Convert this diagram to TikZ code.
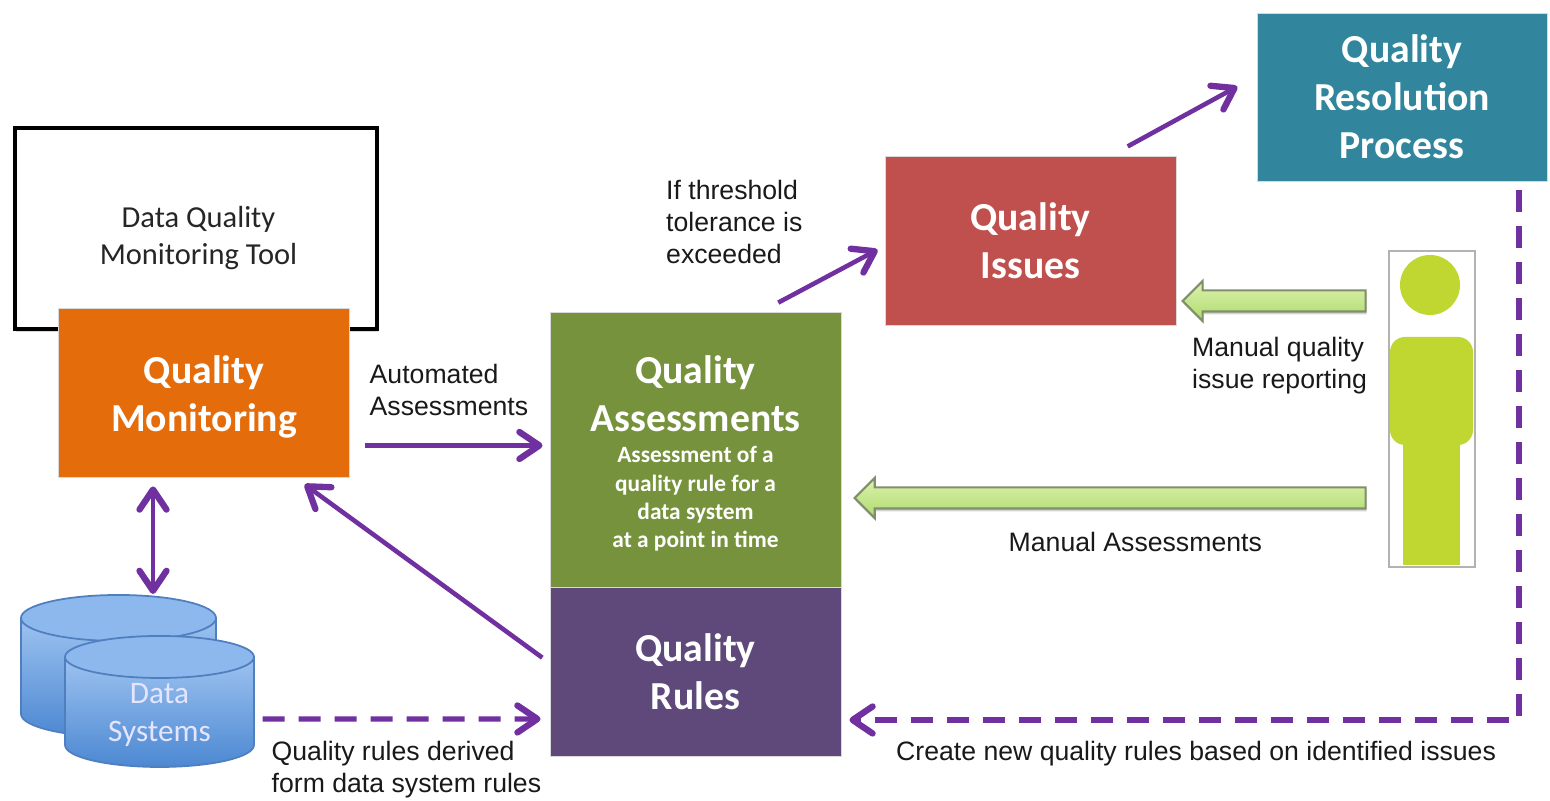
\documentclass[tikz,border=0pt]{standalone}
\usepackage{fontspec}
\setmainfont{Liberation Sans}
\newfontfamily\boxfont{Carlito}
\usetikzlibrary{positioning, calc, arrows.meta, shapes.arrows, shadows}
\definecolor{flowpurple}{HTML}{7030A0}
\definecolor{monitororange}{HTML}{E46C0A}
\definecolor{assessgreen}{HTML}{76923C}
\definecolor{rulespurple}{HTML}{5F497A}
\definecolor{issuesred}{HTML}{C0504D}
\definecolor{resolveteal}{HTML}{31859C}
\definecolor{personlime}{HTML}{BFD730}
\definecolor{dbedge}{HTML}{4F7FBF}
\definecolor{dbcapfill}{HTML}{8DB8EE}
\definecolor{dbupper}{HTML}{9DC3F0}
\definecolor{dblower}{HTML}{4C88D2}
\definecolor{handedge}{HTML}{7F8F6A}
\definecolor{handupper}{HTML}{DDF2AE}
\definecolor{handlower}{HTML}{AEDA6E}
\tikzset{
  titletext/.style={font=\boxfont\bfseries\fontsize{11.3}{13.66}\selectfont, text=white, align=center, inner sep=0pt},
  blockbox/.style={titletext, draw=black!15, line width=.25pt, minimum width=2.91cm},
  flow/.style={draw=flowpurple, line width=1.3pt, -{Straight Barb[round,length=2mm,width=2.7mm,line width=1.8pt]}},
  flowboth/.style={flow, {Straight Barb[round,length=2mm,width=2.7mm,line width=1.8pt]}-{Straight Barb[round,length=2mm,width=2.7mm,line width=1.8pt]}},
  flowdash/.style={flow, line width=1.5pt, dash pattern=on 2.2mm off 1.4mm},
  handoff/.style={single arrow, shape border rotate=180, draw=handedge, line width=.6pt,
    top color=handupper, bottom color=handlower,
    minimum width=.38cm, single arrow head extend=.095cm, inner xsep=0pt, inner ysep=.095cm,
    drop shadow={shadow xshift=.3pt, shadow yshift=-.8pt, opacity=.35}},
  note/.style={font=\fontsize{7.58}{9.1}\selectfont, align=left, text=black!90, inner sep=0pt},
  dbwall/.style={draw=dbedge, line width=.5pt, top color=dbupper, bottom color=dblower},
  dbcap/.style={draw=dbedge, line width=.5pt, fill=dbcapfill},
}
\begin{document}
\begin{tikzpicture}
    \useasboundingbox (0,0) rectangle (15.5,8.01);
    \node[draw=black, line width=1pt, fill=white, minimum width=3.62cm, minimum height=2.01cm, inner sep=0pt,
        drop shadow={shadow xshift=.4pt, shadow yshift=-.8pt, opacity=.3}] (tool) at (1.96,5.725) {};
    \node[font=\boxfont\fontsize{8.68}{10.6}\selectfont, text=black!85, align=center, inner sep=0pt] (toollabel) at (1.985,5.63) {Data Quality\\Monitoring Tool};
    \node[blockbox, fill=monitororange, minimum height=1.69cm] (monitor) at (2.04,4.085) {};
    \node[titletext] (monitortitle) at (2.04,4.04) {Quality\\Monitoring};
    \node[blockbox, fill=assessgreen, minimum height=2.75cm] (assess) at (6.955,3.515) {};
    \node[titletext] (assesstitle) at (6.955,4.07) {Quality\\Assessments};
    \node[font=\boxfont\bfseries\fontsize{6.65}{8.1}\selectfont, text=white, align=center, inner sep=0pt] (assessnote) at (6.955,3.02) {Assessment of a\\quality rule for a\\data system\\at a point in time};
    \node[blockbox, fill=rulespurple, minimum height=1.69cm] (rules) at (6.955,1.295) {Quality\\Rules};
    \node[blockbox, fill=issuesred, minimum height=1.69cm] (issues) at (10.305,5.605) {Quality\\Issues};
    \node[blockbox, fill=resolveteal, minimum width=2.9cm, minimum height=1.68cm] (resolution) at (14.02,7.04) {Quality\\Resolution\\Process};

    \node[draw=black!30, line width=.4pt, fill=white, minimum width=.86cm, minimum height=3.16cm, inner sep=0pt] (person) at (14.32,3.92) {};
    \fill[personlime] (14.30,5.16) circle (.30);
    \fill[personlime] (14.03,2.36) rectangle (14.60,3.7);
    \fill[personlime, rounded corners=.15cm] (13.90,3.56) rectangle (14.73,4.64);

    \draw[dbwall] (.21,1.83) -- (.21,.87) arc[start angle=180, end angle=360, x radius=.975, y radius=.23] -- (2.16,1.83) -- cycle;
    \draw[dbcap] (1.185,1.83) ellipse[x radius=.975, y radius=.23];
    \draw[dbwall] (.65,1.44) -- (.65,.56) arc[start angle=180, end angle=360, x radius=.945, y radius=.22] -- (2.54,1.44) -- cycle;
    \draw[dbcap] (1.595,1.44) ellipse[x radius=.945, y radius=.21];
    \node[font=\boxfont\fontsize{8.9}{10.6}\selectfont, text=blue!10!white, align=center, minimum width=1.89cm, inner sep=0pt] (systems) at (1.595,.86) {Data\\Systems};
    \coordinate (backcap) at (1.53,2.07);

    \draw[flow, shorten <=.15cm, shorten >=.07cm] ([yshift=-.53cm]monitor.east) -- ([yshift=-.53cm]monitor.east -| assess.west);
    \draw[flow, shorten <=.09cm, shorten >=.12cm] ([yshift=.085cm]rules.west) -- ([xshift=.91cm]monitor.south);
    \draw[flow, shorten <=.19cm, shorten >=.08cm] ([xshift=.66cm]assess.north) -- ([yshift=-.055cm]issues.west);
    \draw[flow, shorten <=.19cm, shorten >=.22cm] ([xshift=.805cm]issues.north) -- ([yshift=.21cm]resolution.west);
    \draw[flowboth, shorten <=.09cm] ([xshift=-.51cm]monitor.south) -- (backcap);
    \draw[flowdash, shorten <=.08cm, shorten >=.09cm] ([yshift=-.04cm]systems.east) -- ([yshift=-.475cm]rules.west);
    \draw[flowdash, shorten <=.09cm, shorten >=.08cm] ([xshift=1.17cm]resolution.south) |- ([yshift=-.485cm]rules.east);

    \path ([yshift=1.08cm]person.west) -- ([yshift=-.605cm]issues.east) node[handoff, pos=.514, minimum height=1.83cm] (reportarrow) {};
    \path ([yshift=-.89cm]person.west) -- ([yshift=-.485cm]assess.east) node[handoff, pos=.499, minimum height=5.11cm] (assessarrow) {};

    \node[note, anchor=west] (autolabel) at (3.69,4.11) {Automated\\Assessments};
    \node[note, anchor=west] (exceedlabel) at (6.655,5.79) {If threshold\\tolerance is\\exceeded};
    \node[note, anchor=west] (reportlabel) at (11.915,4.35) {Manual quality\\issue reporting};
    \node[note, anchor=west] (manuallabel) at (10.08,2.59) {Manual Assessments};
    \node[note, anchor=west] (derivedlabel) at (2.71,.31) {Quality rules derived\\form data system rules};
    \node[note, anchor=west] (newruleslabel) at (8.955,.47) {Create new quality rules based on identified issues};
\end{tikzpicture}
\end{document}
